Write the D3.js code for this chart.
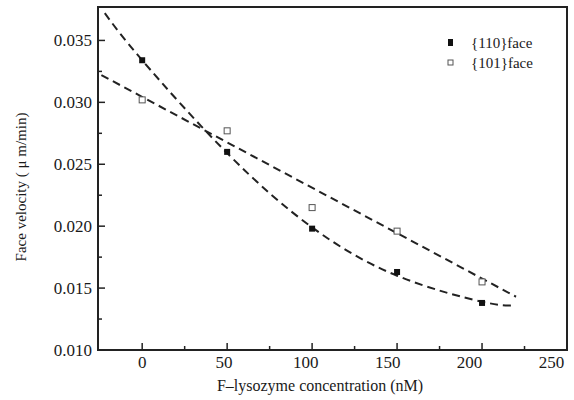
<!DOCTYPE html>
<html><head><meta charset="utf-8">
<script src="https://cdn.jsdelivr.net/npm/d3@7"></script>
<style>body{margin:0;background:#fff}svg{display:block}text{font-family:"Liberation Serif","DejaVu Serif",serif;fill:#1a1a1a}</style>
</head><body><svg id="c" width="574" height="400"></svg>
<script>
const concentrations = [0, 50, 100, 150, 200];
const face110 = [0.0334, 0.0260, 0.0198, 0.0163, 0.0138];
const face101 = [0.0302, 0.0277, 0.0215, 0.0196, 0.0155];
const fit110X = [-22, 0, 50, 100, 150, 200, 218];
const fit110Y = [0.0372, 0.0334, 0.0259, 0.0199, 0.0160, 0.0139, 0.0136];
const fit101X = [-24, 220];
const fit101Y = [0.0322, 0.0143];
const xTicks = [0, 50, 100, 150, 200, 250];
const yTicks = [0.010, 0.015, 0.020, 0.025, 0.030, 0.035];
const seriesNames = ["{110}face", "{101}face"];

const svg = d3.select("#c");
const L = 98, R = 567, T = 7, B = 350;
const x = d3.scaleLinear().domain([-26, 250]).range([L, R]);
const y = d3.scaleLinear().domain([0.010, 0.0377]).range([B, T]);

// frame
svg.append("rect").attr("x", L).attr("y", T).attr("width", R - L).attr("height", B - T)
  .attr("fill", "none").attr("stroke", "#222").attr("stroke-width", 2);

// x axis (inward ticks)
const xMinor = d3.range(25, 250, 50);
svg.append("g").selectAll("line").data(xTicks).join("line")
  .attr("x1", d => x(d)).attr("x2", d => x(d)).attr("y1", B).attr("y2", B - 7)
  .attr("stroke", "#222").attr("stroke-width", 1.5);
svg.append("g").selectAll("line").data(xMinor).join("line")
  .attr("x1", d => x(d)).attr("x2", d => x(d)).attr("y1", B).attr("y2", B - 4)
  .attr("stroke", "#222").attr("stroke-width", 1.5);
svg.append("g").selectAll("text").data(xTicks).join("text")
  .attr("x", d => x(d) - d / 16).attr("y", B + 18).attr("text-anchor", "middle")
  .attr("font-size", 17).text(d => d);

// y axis
const yMinor = d3.range(0.0125, 0.037, 0.005);
svg.append("g").selectAll("line").data(yTicks).join("line")
  .attr("x1", L).attr("x2", L + 7).attr("y1", d => y(d)).attr("y2", d => y(d))
  .attr("stroke", "#222").attr("stroke-width", 1.5);
svg.append("g").selectAll("line").data(yMinor).join("line")
  .attr("x1", L).attr("x2", L + 4).attr("y1", d => y(d)).attr("y2", d => y(d))
  .attr("stroke", "#222").attr("stroke-width", 1.5);
svg.append("g").selectAll("text").data(yTicks).join("text")
  .attr("x", L - 6).attr("y", d => y(d) + 6).attr("text-anchor", "end")
  .attr("font-size", 17).text(d => d3.format(".3f")(d));

// axis titles
svg.append("text").attr("x", 320).attr("y", 391).attr("text-anchor", "middle")
  .attr("font-size", 16).text("F\u2013lysozyme concentration (nM)");
svg.append("text").attr("transform", "translate(26,187) rotate(-90)").attr("text-anchor", "middle")
  .attr("font-size", 15).text("Face velocity ( \u03bc m/min)");

// fit lines
const line = d3.line().x(d => x(d[0])).y(d => y(d[1]));
svg.append("path").datum(d3.zip(fit110X, fit110Y)).attr("d", line.curve(d3.curveNatural))
  .attr("fill", "none").attr("stroke", "#222").attr("stroke-width", 2).attr("stroke-dasharray", "8,5");
svg.append("path").datum(d3.zip(fit101X, fit101Y)).attr("d", line.curve(d3.curveLinear))
  .attr("fill", "none").attr("stroke", "#222").attr("stroke-width", 2).attr("stroke-dasharray", "8,5");

// markers
const s = 6;
svg.append("g").selectAll("rect").data(d3.zip(concentrations, face110)).join("rect")
  .attr("x", d => x(d[0]) - s / 2).attr("y", d => y(d[1]) - s / 2).attr("width", s).attr("height", s)
  .attr("fill", "#111");
svg.append("g").selectAll("rect").data(d3.zip(concentrations, face101)).join("rect")
  .attr("x", d => x(d[0]) - s / 2).attr("y", d => y(d[1]) - s / 2).attr("width", s).attr("height", s)
  .attr("fill", "#fff").attr("stroke", "#555").attr("stroke-width", 1);

// legend
const lg = svg.append("g");
lg.append("rect").attr("x", 448).attr("y", 39).attr("width", 5).attr("height", 7).attr("fill", "#111");
lg.append("rect").attr("x", 448).attr("y", 60).attr("width", 5).attr("height", 5).attr("fill", "#fff").attr("stroke", "#555");
lg.append("text").attr("x", 471).attr("y", 48).attr("font-size", 15).text(seriesNames[0]);
lg.append("text").attr("x", 471).attr("y", 68).attr("font-size", 15).text(seriesNames[1]);
</script></body></html>
